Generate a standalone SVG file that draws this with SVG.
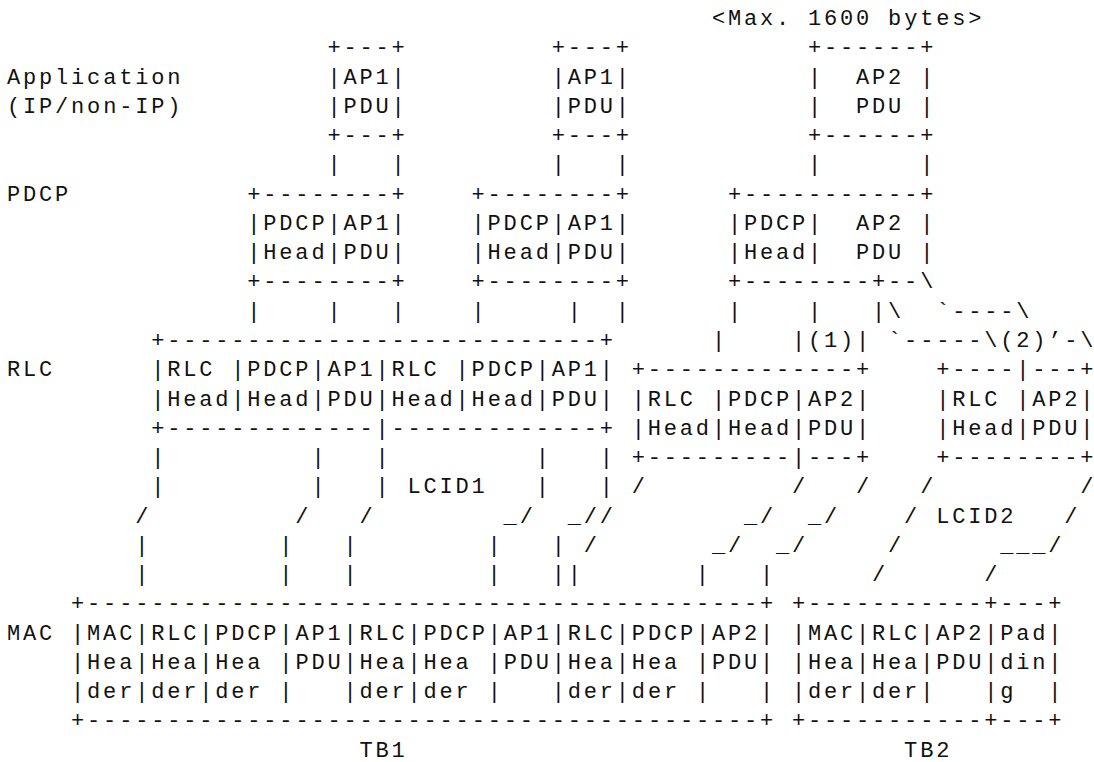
<svg xmlns="http://www.w3.org/2000/svg" width="1094" height="762" viewBox="0 0 1094 762">
<style>
text{font-family:"Liberation Mono","DejaVu Sans Mono",monospace;font-size:22px;letter-spacing:2.82px;white-space:pre;fill:#111}
text.e{letter-spacing:0}
</style>
<rect width="1094" height="762" fill="#fff"/>
<g transform="translate(7,25)" xml:space="preserve">
<g id="labels">
<text x="704.88" y="0">&lt;Max. 1600 bytes&gt;</text>
<text x="0" y="58.54">Application</text>
<text x="0" y="87.81">(IP/non-IP)</text>
<text x="0" y="175.62">PDCP</text>
<text x="0" y="351.24">RLC</text>
<text x="0" y="614.67">MAC</text>
<text x="352.44" y="731.75">TB1</text>
<text x="897.12" y="731.75">TB2</text>
</g>
<g id="ap1-pdu-a">
<text x="320.4" y="29.27">+---+</text>
<text x="320.4" y="58.54">|AP1|</text>
<text x="320.4" y="87.81">|PDU|</text>
<text x="320.4" y="117.08">+---+</text>
</g>
<g id="ap1-pdu-b">
<text x="544.68" y="29.27">+---+</text>
<text x="544.68" y="58.54">|AP1|</text>
<text x="544.68" y="87.81">|PDU|</text>
<text x="544.68" y="117.08">+---+</text>
</g>
<g id="ap2-pdu">
<text x="801" y="29.27">+------+</text>
<text x="801" y="58.54">|  AP2 |</text>
<text x="801" y="87.81">|  PDU |</text>
<text x="801" y="117.08">+------+</text>
</g>
<g id="pdcp-a">
<text x="240.3" y="175.62">+--------+</text>
<text x="240.3" y="204.89">|PDCP|AP1|</text>
<text x="240.3" y="234.16">|Head|PDU|</text>
<text x="240.3" y="263.43">+--------+</text>
</g>
<g id="pdcp-b">
<text x="464.58" y="175.62">+--------+</text>
<text x="464.58" y="204.89">|PDCP|AP1|</text>
<text x="464.58" y="234.16">|Head|PDU|</text>
<text x="464.58" y="263.43">+--------+</text>
</g>
<g id="pdcp-c">
<text x="720.9" y="175.62">+-----------+</text>
<text x="720.9" y="204.89">|PDCP|  AP2 |</text>
<text x="720.9" y="234.16">|Head|  PDU |</text>
<text x="720.9" y="263.43">+--------+</text>
</g>
<g id="rlc-a">
<text x="144.18" y="321.97">+---------------------------+</text>
<text x="144.18" y="351.24">|RLC |PDCP|AP1|RLC |PDCP|AP1|</text>
<text x="144.18" y="380.51">|Head|Head|PDU|Head|Head|PDU|</text>
<text x="144.18" y="409.78">+-------------|-------------+</text>
</g>
<g id="rlc-b">
<text x="624.78" y="351.24">+-------------+</text>
<text x="624.78" y="380.51">|RLC |PDCP|AP2|</text>
<text x="624.78" y="409.78">|Head|Head|PDU|</text>
<text x="624.78" y="439.05">+---------|---+</text>
</g>
<g id="rlc-c">
<text x="929.16" y="351.24">+----|---</text><text class="e" x="1073.34" y="351.24">+</text>
<text x="929.16" y="380.51">|RLC |AP2</text><text class="e" x="1073.34" y="380.51">|</text>
<text x="929.16" y="409.78">|Head|PDU</text><text class="e" x="1073.34" y="409.78">|</text>
<text x="929.16" y="439.05">+--------</text><text class="e" x="1073.34" y="439.05">+</text>
</g>
<g id="mac-tb1">
<text x="64.08" y="585.4">+------------------------------------------+</text>
<text x="64.08" y="614.67">|MAC|RLC|PDCP|AP1|RLC|PDCP|AP1|RLC|PDCP|AP2|</text>
<text x="64.08" y="643.94">|Hea|Hea|Hea |PDU|Hea|Hea |PDU|Hea|Hea |PDU|</text>
<text x="64.08" y="673.21">|der|der|der |   |der|der |   |der|der |   |</text>
<text x="64.08" y="702.48">+------------------------------------------+</text>
</g>
<g id="mac-tb2">
<text x="784.98" y="585.4">+-----------+---+</text>
<text x="784.98" y="614.67">|MAC|RLC|AP2|Pad|</text>
<text x="784.98" y="643.94">|Hea|Hea|PDU|din|</text>
<text x="784.98" y="673.21">|der|der|   |g  |</text>
<text x="784.98" y="702.48">+-----------+---+</text>
</g>
<g id="connectors">
<text x="320.4" y="146.35">|   |</text>
<text x="544.68" y="146.35">|   |</text>
<text x="801" y="146.35">|      |</text>
<text x="881.1" y="263.43">--\</text>
<text x="240.3" y="292.7">|    |   |</text>
<text x="464.58" y="292.7">|     |  |</text>
<text x="720.9" y="292.7">|    |   |\</text>
<text x="929.16" y="292.7">`----\</text>
<text x="704.88" y="321.97">|</text>
<text x="784.98" y="321.97">|(1)|</text>
<text x="881.1" y="321.97">`-----\(2)’-</text><text class="e" x="1073.34" y="321.97">\</text>
<text x="144.18" y="439.05">|         |   |         |   |</text>
<text x="144.18" y="468.32">|         |   |</text>
<text x="400.5" y="468.32">LCID1</text>
<text x="528.66" y="468.32">|   |</text>
<text x="624.78" y="468.32">/</text>
<text x="784.98" y="468.32">/</text>
<text x="849.06" y="468.32">/</text>
<text x="913.14" y="468.32">/</text>
<text class="e" x="1073.34" y="468.32">/</text>
<text x="128.16" y="497.59">/</text>
<text x="288.36" y="497.59">/</text>
<text x="352.44" y="497.59">/</text>
<text x="496.62" y="497.59">_/</text>
<text x="560.7" y="497.59">_//</text>
<text x="736.92" y="497.59">_/</text>
<text x="801" y="497.59">_/</text>
<text x="897.12" y="497.59">/</text>
<text x="929.16" y="497.59">LCID2</text>
<text x="1057.32" y="497.59">/</text>
<text x="128.16" y="526.86">|</text>
<text x="272.34" y="526.86">|</text>
<text x="336.42" y="526.86">|</text>
<text x="480.6" y="526.86">|</text>
<text x="544.68" y="526.86">|</text>
<text x="576.72" y="526.86">/</text>
<text x="704.88" y="526.86">_/</text>
<text x="768.96" y="526.86">_/</text>
<text x="881.1" y="526.86">/</text>
<text x="993.24" y="526.86">___/</text>
<text x="128.16" y="556.13">|</text>
<text x="272.34" y="556.13">|</text>
<text x="336.42" y="556.13">|</text>
<text x="480.6" y="556.13">|</text>
<text x="544.68" y="556.13">||</text>
<text x="688.86" y="556.13">|</text>
<text x="752.94" y="556.13">|</text>
<text x="865.08" y="556.13">/</text>
<text x="977.22" y="556.13">/</text>
</g>
</g>
</svg>
